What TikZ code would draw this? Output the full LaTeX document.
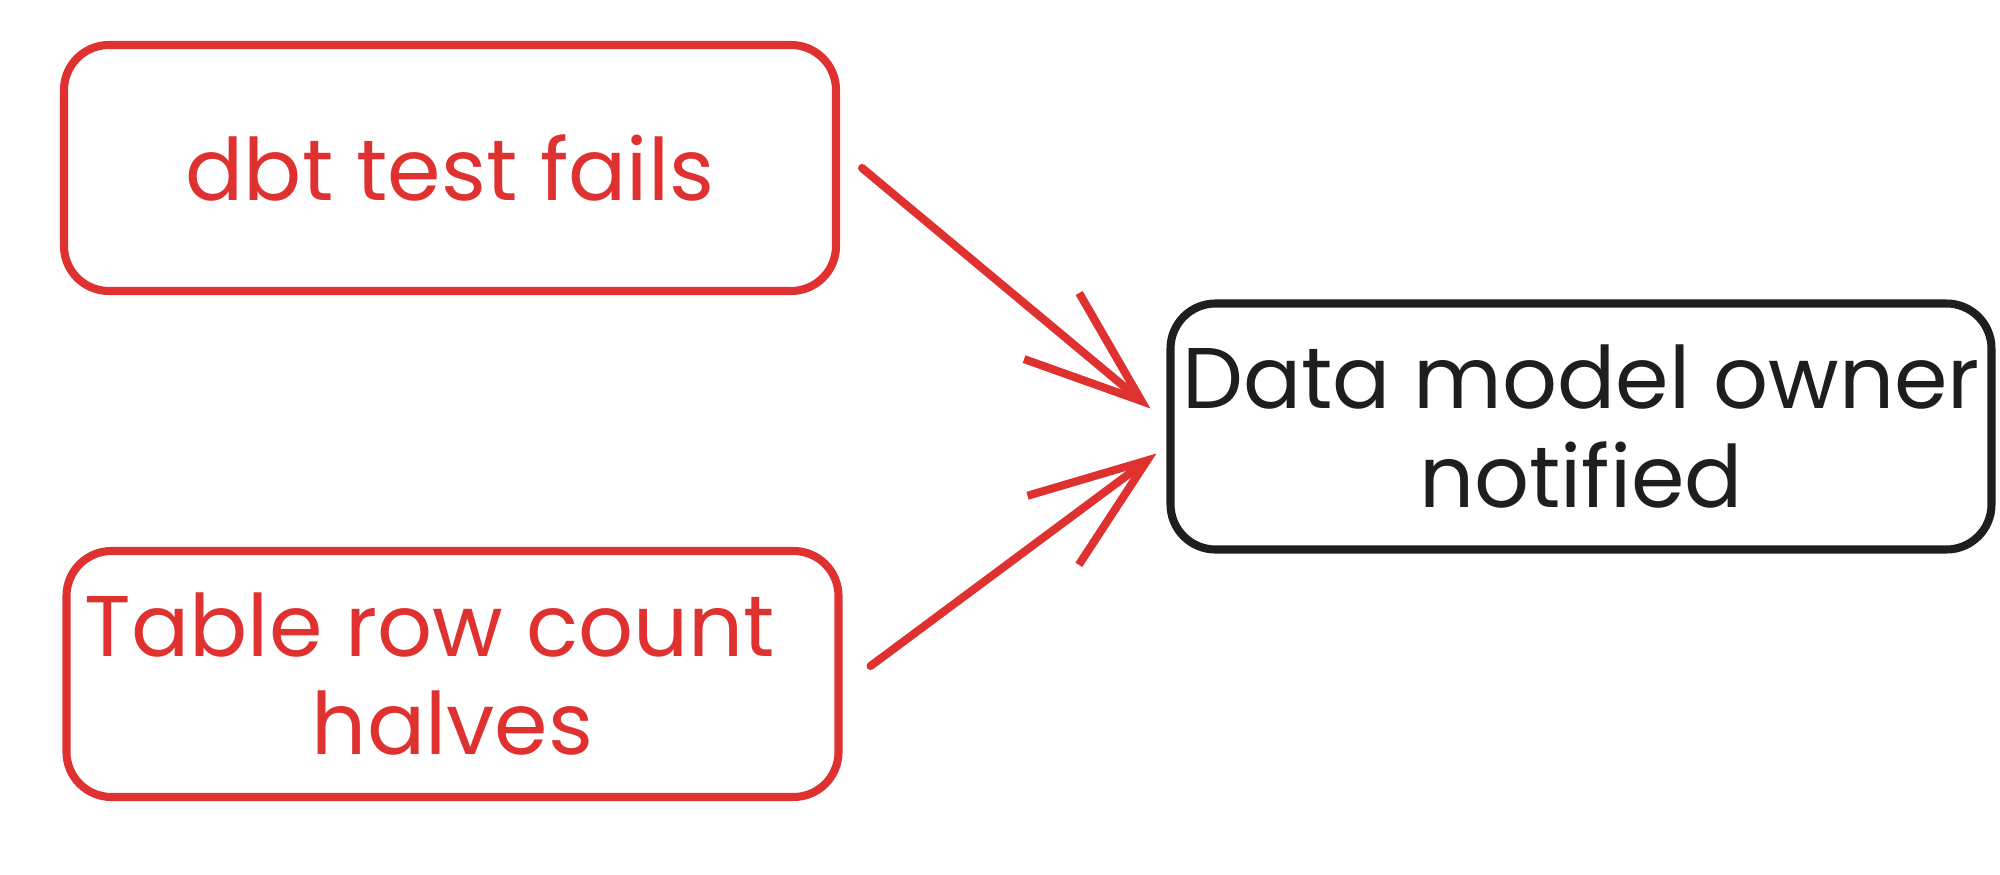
\documentclass[tikz,border=0pt]{standalone}
\usepackage{fontspec}
\setmainfont{Poppins}
\usetikzlibrary{arrows.meta}
\definecolor{sketchred}{HTML}{E03131}
\definecolor{sketchblack}{HTML}{1E1E1E}
\begin{document}
\begin{tikzpicture}[
  card/.style={draw, line width=2.3pt, rounded corners=0.45cm, minimum width=7.72cm,
    minimum height=2.46cm, align=center, font=\fontsize{24.5}{28}\selectfont},
  flow/.style={draw=sketchred, line width=2.3pt, line cap=round,
    -{Straight Barb[length=1.17cm, width=0.86cm, line width=2.3pt]}}]
\useasboundingbox (0,0) rectangle (20,8.74);
\node[card, sketchred] (fails) at (4.5,7.06) {dbt test fails};
\node[card, sketchred] (halves) at (4.525,2.0) {Table row count\hspace*{0.45cm}\\halves};
\node[card, sketchblack] (owner) at (15.81,4.475) {Data model owner\\notified};
\coordinate (out1) at ([xshift=0.22cm]fails.east);
\coordinate (out2) at ([xshift=0.28cm, yshift=0.08cm]halves.east);
\coordinate (in1) at ([xshift=-0.16cm, yshift=0.18cm]owner.west);
\coordinate (in2) at ([xshift=-0.10cm, yshift=-0.27cm]owner.west);
\draw[flow] (out1) -- (in1);
\draw[flow] (out2) -- (in2);
\end{tikzpicture}
\end{document}
